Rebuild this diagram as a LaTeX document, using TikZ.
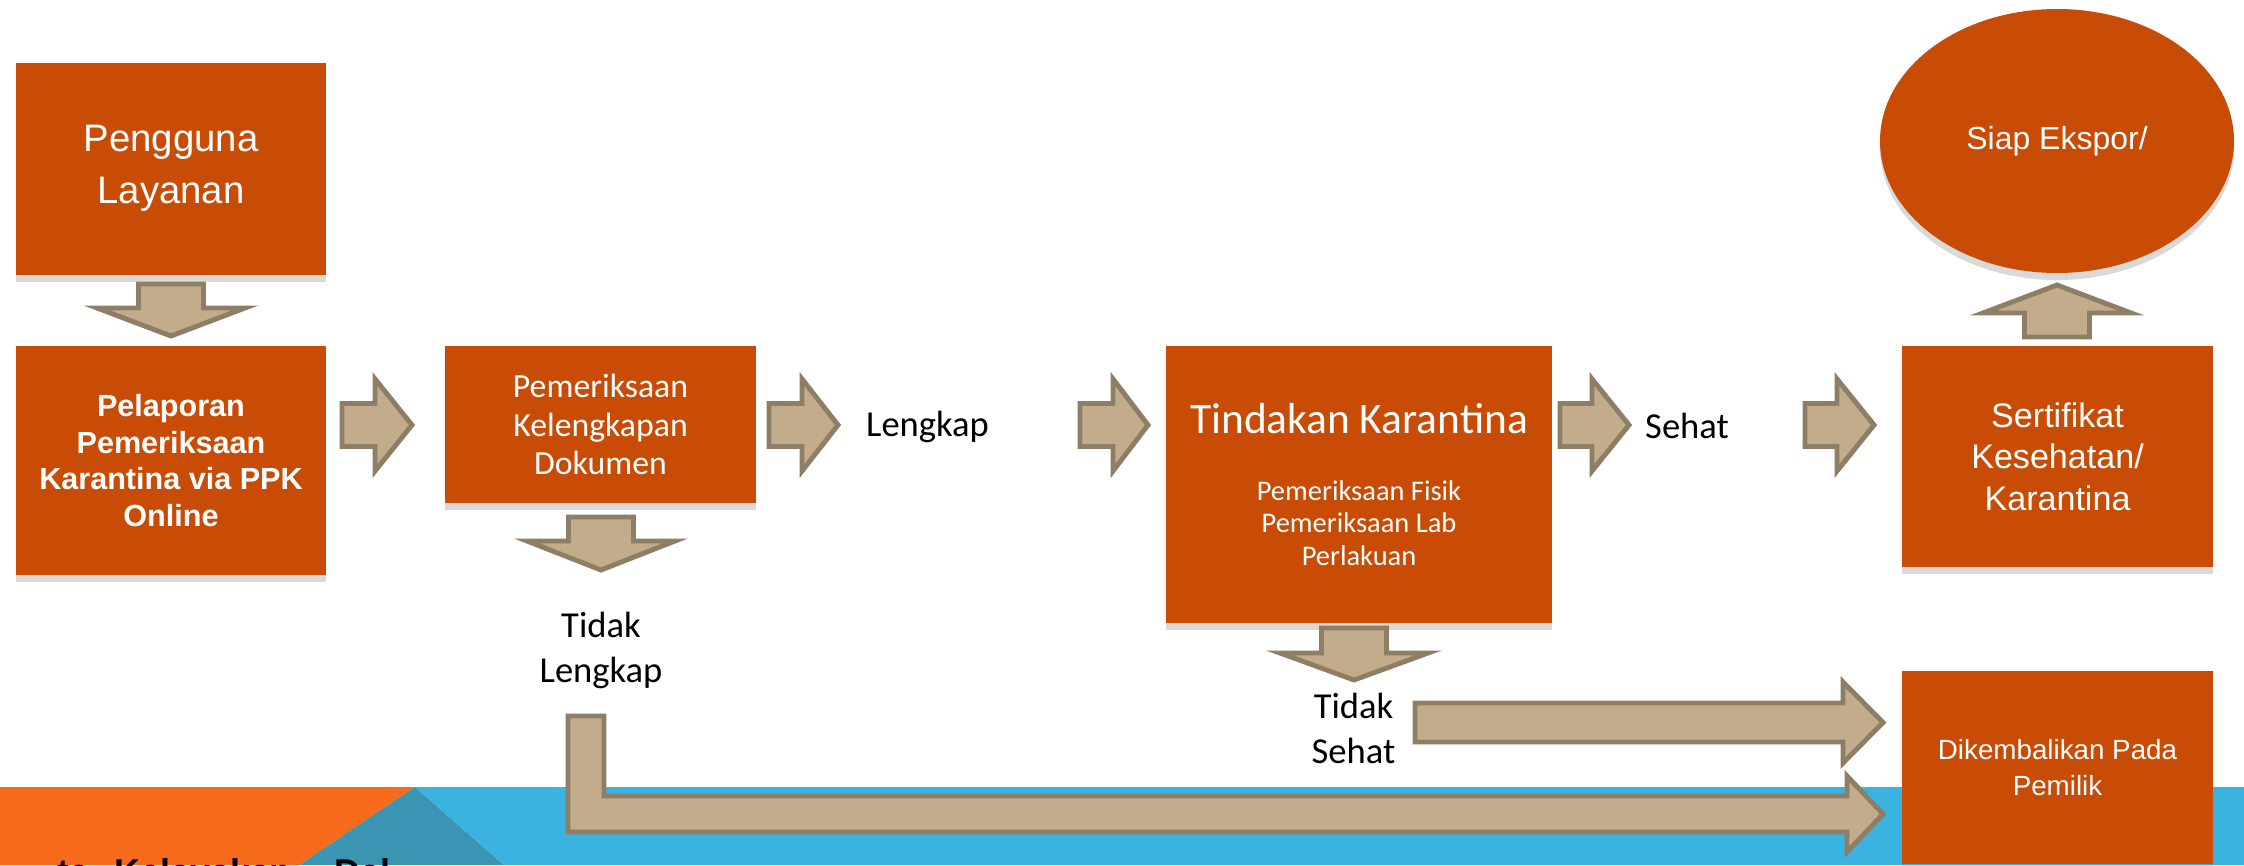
\documentclass[tikz,border=0pt]{standalone}
\usepackage{fontspec}
\setmainfont{Liberation Sans}
\newfontfamily\calfont{Carlito}
\usetikzlibrary{shapes.geometric,shadows}
\definecolor{boxc}{HTML}{C84B06}
\definecolor{arrf}{HTML}{C2AC8C}
\definecolor{arrd}{HTML}{8E7E65}
\definecolor{bandor}{HTML}{F96B1C}
\definecolor{bandteal}{HTML}{3A95B3}
\definecolor{bandblue}{HTML}{3AB3E0}
\newcommand\ArrR[4]{\draw[blk] (#1,{#4-21.5}) -- (#2,{#4-21.5}) -- (#2,{#4-46}) -- (#3,#4) -- (#2,{#4+46}) -- (#2,{#4+21.5}) -- (#1,{#4+21.5}) -- cycle;}
\newcommand\ArrD[4]{\draw[blk] ({#1-32.5},#2) -- ({#1+32.5},#2) -- ({#1+32.5},#3) -- ({#1+74},#3) -- (#1,#4) -- ({#1-74},#3) -- ({#1-32.5},#3) -- cycle;}
\begin{document}
\begin{tikzpicture}[x=0.1mm,y=-0.1mm,
  box/.style={fill=boxc, text=white, align=center, inner sep=0pt,
    drop shadow={shadow xshift=0pt,shadow yshift=-2pt,opacity=0.3}},
  blk/.style={fill=arrf, draw=arrd, line width=1.4pt, line join=miter},
  lbl/.style={font=\calfont\fontsize{10.4}{12.8}\selectfont, text=black, align=center, inner sep=0pt}]
\useasboundingbox (0,0) rectangle (2244,865);
\clip (0,0) rectangle (2244,865);

% bottom band
\fill[bandor] (0,787) -- (415,787) -- (299,865) -- (0,865) -- cycle;
\fill[bandteal] (415,787) -- (504,865) -- (299,865) -- cycle;
\fill[bandblue] (415,787) -- (2244,787) -- (2244,865) -- (504,865) -- cycle;
\node[anchor=base west, font=\bfseries\fontsize{10.2}{12}\selectfont, inner sep=0pt] (bottomtxt) at (57,884) {ta\hspace{2.5mm}Kelayakan\hspace{4.3mm}Dal};

% boxes
\node[box, minimum width=31mm, minimum height=21.25mm, font=\fontsize{10.9}{14.8}\selectfont] (pengguna) at (171,168.75) {Pengguna\\Layanan};
\node[box, minimum width=31mm, minimum height=22.9mm, font=\bfseries\fontsize{8.7}{10.4}\selectfont] (pelaporan) at (171,460.5) {Pelaporan\\Pemeriksaan\\Karantina via PPK\\Online};
\node[box, minimum width=31.1mm, minimum height=15.7mm, font=\calfont\fontsize{9.6}{11}\selectfont] (dokumen) at (600.5,424.5) {Pemeriksaan\\Kelengkapan\\Dokumen};
\node[box, minimum width=38.6mm, minimum height=27.7mm, font=\calfont\fontsize{8.1}{9.25}\selectfont] (tindakan) at (1359,484.5) {{\fontsize{12.35}{14}\selectfont Tindakan Karantina}\\[9.8pt]Pemeriksaan Fisik\\Pemeriksaan Lab\\Perlakuan};
\node[box, minimum width=31.1mm, minimum height=22.1mm, font=\fontsize{9.7}{11.8}\selectfont] (sertifikat) at (2057.5,456.5) {Sertifikat\\Kesehatan/\\Karantina};
\node[box, ellipse, minimum width=35.4mm, minimum height=26.4mm, font=\fontsize{9.1}{11}\selectfont] (siap) at (2057,141) {Siap Ekspor/};
\node[box, minimum width=31.1mm, minimum height=19.3mm, font=\fontsize{7.9}{10.25}\selectfont] (kembali) at (2057.5,767.5) {Dikembalikan Pada\\Pemilik};

% labels
\node[lbl, anchor=base] (lengkap) at (927.5,436) {Lengkap};
\node[lbl, anchor=base] (sehat) at (1687,438) {Sehat};
\node[lbl] (tlengkap) at (601,650) {Tidak\\Lengkap};
\node[lbl] (tsehat) at (1353.5,728) {Tidak\\Sehat};

% block arrows
\ArrD{171}{284}{308}{336}
\ArrD{601}{517}{541}{570}
\ArrD{1354}{628}{653}{680}
\ArrD{2057}{337}{313}{285}
\ArrR{342}{375}{412}{425}
\ArrR{769}{802}{838}{425}
\ArrR{1080}{1113}{1148}{425}
\ArrR{1560}{1592}{1629}{425}
\ArrR{1805}{1837}{1874}{425}
\draw[blk] (1415,703) -- (1843,703) -- (1843,682) -- (1883,722.5) -- (1843,763) -- (1843,742) -- (1415,742) -- cycle;
\draw[blk] (568,716) -- (604,716) -- (604,796) -- (1847,796) -- (1847,776) -- (1883,814) -- (1847,852) -- (1847,832) -- (568,832) -- cycle;
\end{tikzpicture}
\end{document}
